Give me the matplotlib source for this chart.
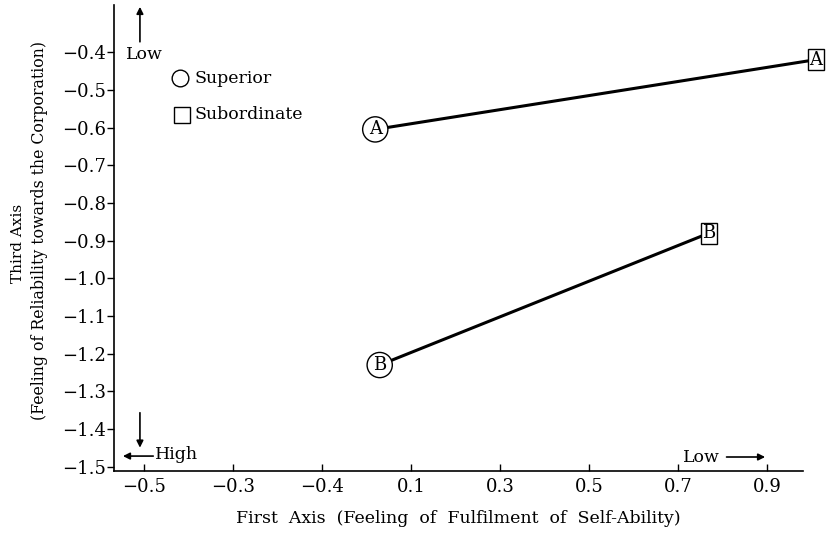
import matplotlib.pyplot as plt

plt.rcParams['font.family'] = ['DejaVu Serif']

# Positions of the groups on the first and third axes
groups = ['A', 'B']
superior_x = [0.02, 0.03]
superior_y = [-0.605, -1.23]
subordinate_x = [1.01, 0.77]
subordinate_y = [-0.42, -0.88]

x_ticks = [-0.5, -0.3, -0.1, 0.1, 0.3, 0.5, 0.7, 0.9]
x_tick_labels = ['−0.5', '−0.3', '−0.4', '0.1', '0.3', '0.5', '0.7', '0.9']
y_ticks = [-0.4, -0.5, -0.6, -0.7, -0.8, -0.9, -1.0, -1.1, -1.2, -1.3, -1.4, -1.5]
y_tick_labels = ['−0.4', '−0.5', '−0.6', '−0.7', '−0.8', '−0.9', '−1.0',
                 '−1.1', '−1.2', '−1.3', '−1.4', '−1.5']

fig = plt.figure(figsize=(8.3, 5.36), dpi=100)
ax = fig.add_axes([0.1373, 0.1213, 0.8302, 0.8694])

for i, g in enumerate(groups):
    ax.plot([superior_x[i], subordinate_x[i]], [superior_y[i], subordinate_y[i]],
            color='black', lw=2.2, solid_capstyle='butt', zorder=2, clip_on=False)
    ax.text(superior_x[i], superior_y[i], g, ha='center', va='center', fontsize=13,
            zorder=3, clip_on=False,
            bbox=dict(boxstyle='circle,pad=0.2', fc='white', ec='black', lw=1.0))
    ax.text(subordinate_x[i], subordinate_y[i], g, ha='center', va='center', fontsize=13,
            zorder=3, clip_on=False,
            bbox=dict(boxstyle='square,pad=0.08', fc='white', ec='black', lw=1.0))

ax.set_xlim(-0.567, 0.981)
ax.set_ylim(-1.511, -0.275)
ax.set_xticks(x_ticks)
ax.set_xticklabels(x_tick_labels)
ax.set_yticks(y_ticks)
ax.set_yticklabels(y_tick_labels)
ax.tick_params(axis='x', direction='in', length=5, width=1, pad=5, labelsize=13)
ax.tick_params(axis='y', direction='out', length=5, width=1, pad=1, labelsize=13)

for side in ['top', 'right']:
    ax.spines[side].set_visible(False)
for side in ['left', 'bottom']:
    ax.spines[side].set_linewidth(1.2)

ax.set_xlabel('First  Axis  (Feeling  of  Fulfilment  of  Self-Ability)', fontsize=12.5, labelpad=10)
fig.text(0.022, 0.545, 'Third Axis', rotation=90, ha='center', va='center', fontsize=11)
fig.text(0.048, 0.57, '(Feeling of Reliability towards the Corporation)', rotation=90,
         ha='center', va='center', fontsize=11.3)

# legend
ax.plot([0.096], [0.843], marker='o', ms=12, mfc='white', mec='black', mew=1,
        transform=ax.transAxes, clip_on=False)
ax.text(0.117, 0.843, 'Superior', transform=ax.transAxes, ha='left', va='center', fontsize=12.5)
ax.plot([0.099], [0.764], marker='s', ms=11, mfc='white', mec='black', mew=1,
        transform=ax.transAxes, clip_on=False)
ax.text(0.117, 0.764, 'Subordinate', transform=ax.transAxes, ha='left', va='center', fontsize=12.5)

# direction arrows
arrow = dict(arrowstyle='-|>', lw=1.2, color='black', mutation_scale=10, shrinkA=0, shrinkB=0)
ax.annotate('', xy=(0.0377, 0.996), xytext=(0.0377, 0.921), xycoords='axes fraction',
            arrowprops=arrow, annotation_clip=False)
ax.text(0.0174, 0.893, 'Low', transform=ax.transAxes, ha='left', va='center', fontsize=12.5)
ax.annotate('', xy=(0.0377, 0.050), xytext=(0.0377, 0.125), xycoords='axes fraction',
            arrowprops=arrow)
ax.annotate('', xy=(0.013, 0.032), xytext=(0.057, 0.032), xycoords='axes fraction',
            arrowprops=arrow)
ax.text(0.059, 0.036, 'High', transform=ax.transAxes, ha='left', va='center', fontsize=12.5)
ax.text(0.826, 0.030, 'Low', transform=ax.transAxes, ha='left', va='center', fontsize=12.5)
ax.annotate('', xy=(0.945, 0.030), xytext=(0.889, 0.030), xycoords='axes fraction',
            arrowprops=arrow)

plt.savefig('out.png', dpi=100)
